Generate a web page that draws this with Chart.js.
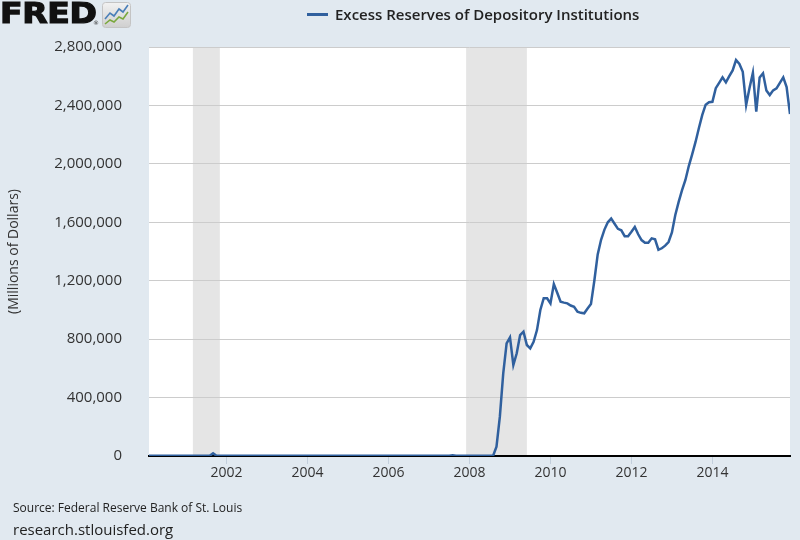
<!DOCTYPE html>
<html>
<head>
<meta charset="utf-8">
<script src="https://cdn.jsdelivr.net/npm/chart.js@4.4.1/dist/chart.umd.min.js"></script>
<style>
  html,body{margin:0;padding:0;background:#e1e9f0;}
  #wrap{position:relative;width:800px;height:540px;background:#e1e9f0;overflow:hidden;font-family:"Open Sans",sans-serif;}
  #c{position:absolute;left:0;top:0;}
  .logo{position:absolute;left:0px;top:-4px;font-family:"DejaVu Sans",sans-serif;font-weight:900;font-size:29px;color:#111;letter-spacing:-0.3px;-webkit-text-stroke:1.2px #111;transform:scaleX(1.14);transform-origin:left top;}
  .reg{position:absolute;left:93px;top:19px;font-size:6px;color:#333;font-family:"DejaVu Sans";}
  .icon{position:absolute;left:102px;top:2px;}
  .legend{position:absolute;left:307px;top:4px;height:20px;display:flex;align-items:center;}
  .sw{width:21px;height:3px;background:#30609e;margin-right:7px;}
  .lt{font-size:15px;color:#222;font-weight:600;white-space:nowrap;}
  .src{position:absolute;left:13px;top:499px;font-size:12px;color:#222;}
  .url{position:absolute;left:13px;top:519px;font-size:15px;color:#222;}
</style>
</head>
<body>
<div id="wrap">
  <canvas id="c" width="800" height="540"></canvas>
  <div class="logo">FRED</div>
  <div class="reg">®</div>
  <svg class="icon" width="29" height="26" viewBox="0 0 29 26">
    <defs><linearGradient id="g" x1="0" y1="0" x2="0" y2="1"><stop offset="0" stop-color="#f2f2f2"/><stop offset="1" stop-color="#cfcfcf"/></linearGradient></defs>
    <rect x="0.5" y="0.5" width="28" height="25" rx="3" fill="url(#g)" stroke="#c4c4c4"/>
    <polyline points="3,17 8,11 12,14 17,7 21,10 26,3" fill="none" stroke="#4a7fb8" stroke-width="1.6"/>
    <polyline points="3,22 8,18 12,20 17,15 21,17 26,10" fill="none" stroke="#7aa83e" stroke-width="1.6"/>
  </svg>
  <div class="legend"><div class="sw"></div><div class="lt">Excess Reserves of Depository Institutions</div></div>
  <div class="src">Source: Federal Reserve Bank of St. Louis</div>
  <div class="url">research.stlouisfed.org</div>
</div>
<script>
// Monthly series, first observation Feb 2000
const startYear = 2000;
const startMonth = 2;
const seriesName = "Excess Reserves of Depository Institutions";
// Millions of dollars, one array per year
const y2000 = [1180, 1090, 1260, 1020, 1130, 1240, 1010, 1170, 980, 1230, 1490]; // Feb-Dec
const y2001 = [1320, 1090, 1180, 1050, 1260, 1130, 1490, 1680, 19020, 2010, 1540, 1660];
const y2002 = [1430, 1310, 1560, 1170, 1420, 1380, 1510, 1290, 1460, 1420, 1630, 1750];
const y2003 = [1590, 1470, 1620, 1380, 1650, 1810, 2240, 1620, 1710, 1440, 1580, 1910];
const y2004 = [1630, 1540, 1770, 1490, 1720, 1850, 1640, 1520, 1780, 1460, 1600, 1830];
const y2005 = [1610, 1490, 1550, 1420, 1680, 1730, 1560, 1590, 1870, 1480, 1530, 1750];
const y2006 = [1640, 1520, 1690, 1480, 1570, 1810, 1650, 1540, 1720, 1490, 1610, 1830];
const y2007 = [1560, 1470, 1660, 1520, 1580, 1740, 1690, 4920, 2010, 1710, 1630, 1720];
const y2008 = [1620, 1720, 1810, 1880, 1990, 2140, 2030, 1930, 64000, 269000, 566000, 771000];
const y2009 = [812000, 623000, 703000, 828000, 851000, 760000, 737000, 782000, 862000, 1000000, 1080000, 1080000];
const y2010 = [1045000, 1177000, 1118000, 1056000, 1050000, 1045000, 1030000, 1022000, 988000, 980000, 977000, 1010000];
const y2011 = [1040000, 1200000, 1380000, 1480000, 1550000, 1600000, 1625000, 1590000, 1555000, 1545000, 1505000, 1505000];
const y2012 = [1535000, 1568000, 1518000, 1478000, 1460000, 1460000, 1490000, 1483000, 1412000, 1422000, 1440000, 1465000];
const y2013 = [1530000, 1650000, 1740000, 1820000, 1890000, 1985000, 2065000, 2150000, 2245000, 2335000, 2405000, 2422000];
const y2014 = [2425000, 2518000, 2555000, 2592000, 2558000, 2600000, 2640000, 2711000, 2684000, 2630000, 2403000, 2520000];
const y2015 = [2624000, 2357000, 2592000, 2620000, 2503000, 2471000, 2503000, 2517000, 2555000, 2592000, 2526000, 2341000];

const yearly = [y2000, y2001, y2002, y2003, y2004, y2005, y2006, y2007, y2008, y2009, y2010, y2011, y2012, y2013, y2014, y2015];
const xTicks = [2002, 2004, 2006, 2008, 2010, 2012, 2014];
const yTicks = [0, 400000, 800000, 1200000, 1600000, 2000000, 2400000, 2800000];
const recessions = [["2001-03", "2001-11"], ["2007-12", "2009-06"]];

function ym(s){ const p = s.split("-"); return +p[0] + (+p[1] - 1) / 12; }

const points = [];
yearly.forEach((arr, i) => {
  const yr = startYear + i;
  const m0 = (i === 0) ? startMonth : 1;
  arr.forEach((v, j) => points.push({x: yr + (m0 + j - 1) / 12, y: v}));
});
const xMin = points[0].x, xMax = points[points.length - 1].x;

const bgPlugin = {
  id: 'bg',
  beforeDraw(chart){
    const {ctx, chartArea: a, scales} = chart;
    ctx.save();
    ctx.fillStyle = '#ffffff';
    ctx.fillRect(a.left, a.top, a.right - a.left, a.bottom - a.top);
    ctx.fillStyle = '#e5e5e5';
    recessions.forEach(r => {
      const x1 = scales.x.getPixelForValue(ym(r[0]));
      const x2 = scales.x.getPixelForValue(ym(r[1]));
      ctx.fillRect(x1, a.top, x2 - x1, a.bottom - a.top);
    });
    ctx.restore();
  }
};

Chart.defaults.font.family = '"Open Sans", sans-serif';
new Chart(document.getElementById('c'), {
  type: 'line',
  data: { datasets: [{ label: seriesName, data: points, borderColor: '#30609e', borderWidth: 2.5, pointRadius: 0, tension: 0, fill: false }] },
  options: {
    responsive: false, animation: false,
    layout: { padding: { top: 47, right: 10, left: 0, bottom: 0 } },
    plugins: { legend: { display: false }, tooltip: { enabled: false } },
    scales: {
      x: {
        type: 'linear', min: xMin, max: xMax,
        afterFit(s){ s.height = 84; },
        afterBuildTicks(s){ s.ticks = xTicks.map(v => ({value: v})); },
        ticks: { color: '#333', font: { size: 14 }, padding: 1, maxRotation: 0, callback: v => String(v) },
        grid: { drawOnChartArea: false, drawTicks: true, tickLength: 8, color: '#c3cfdc' },
        border: { display: true, color: '#000', width: 2 }
      },
      y: {
        min: 0, max: 2800000,
        afterFit(s){ s.width = 149; },
        afterBuildTicks(s){ s.ticks = yTicks.map(v => ({value: v})); },
        ticks: { color: '#333', font: { size: 15 }, padding: 27, callback: v => v.toLocaleString('en-US') },
        grid: { color: '#cccccc', drawTicks: false, lineWidth: 1 },
        border: { display: false },
        title: { display: true, text: '(Millions of Dollars)', color: '#333', font: { size: 14 }, padding: { top: 6, bottom: 0 } }
      }
    }
  },
  plugins: [bgPlugin]
});
</script>
</body>
</html>
